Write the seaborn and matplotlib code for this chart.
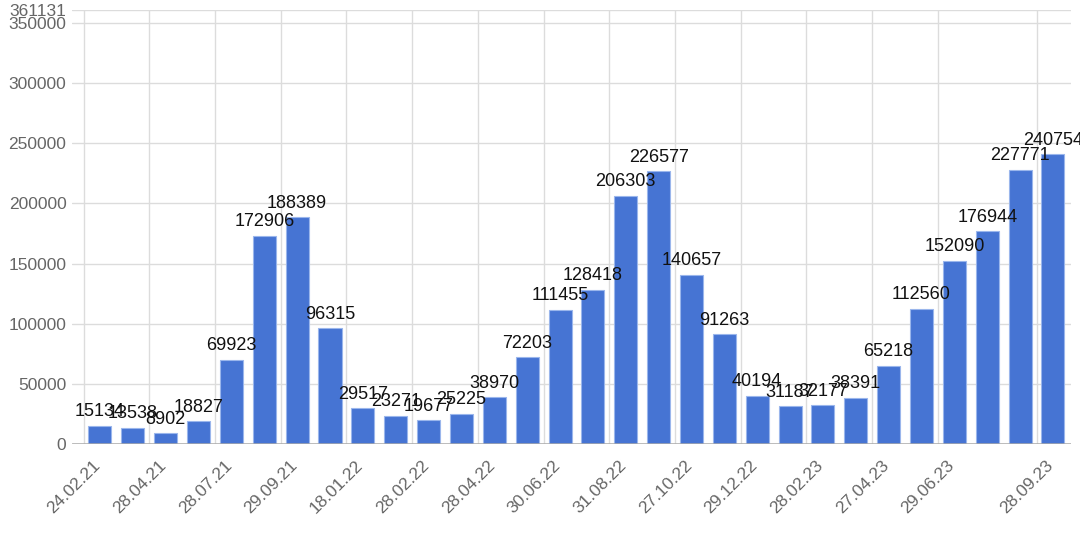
import numpy as np
import pandas as pd
import matplotlib
matplotlib.use("Agg")
import matplotlib.pyplot as plt
import matplotlib.transforms as mtransforms
import seaborn as sns

# bar values, left to right
values = [15134, 13538, 8902, 18827, 69923, 172906, 188389, 96315, 29517, 23271,
          19677, 25225, 38970, 72203, 111455, 128418, 206303, 226577, 140657, 91263,
          40194, 31187, 32177, 38391, 65218, 112560, 152090, 176944, 227771, 240754]

# date labels on the x axis and the bar each one stands in front of
tick_labels = ["24.02.21", "28.04.21", "28.07.21", "29.09.21", "18.01.22", "28.02.22",
               "28.04.22", "30.06.22", "31.08.22", "27.10.22", "29.12.22", "28.02.23",
               "27.04.23", "29.06.23", "28.09.23"]
tick_before_bar = [0, 2, 4, 6, 8, 10, 12, 14, 16, 18, 20, 22, 24, 26, 29]

y_max = 361131
y_step = 50000

df = pd.DataFrame({"bar": np.arange(len(values)), "value": values})

sns.set_theme(style="white")
plt.rcParams["font.family"] = ["Liberation Sans", "DejaVu Sans"]

fig = plt.figure(figsize=(10.8, 5.4), dpi=100)
ax = fig.add_axes([0.0667, 0.1778, 0.9250, 0.8044])

sns.barplot(data=df, x="bar", y="value", color="#4674d3", saturation=1,
            width=0.7, edgecolor="#9ab6ec", linewidth=0.8, ax=ax, zorder=3)

grid_col = "#dcdcdc"
ax.set_xlim(-0.85, len(values) - 0.45)
ax.set_ylim(0, y_max)

# horizontal grid
yticks = list(range(0, y_max, y_step)) + [y_max]
ax.set_yticks(yticks)
ax.set_yticklabels([str(t) for t in yticks], fontsize=12.5, color="#666666")
for t in yticks:
    ax.axhline(t, color=grid_col, lw=1, zorder=1)
ax.axhline(0, color="#aaaaaa", lw=1.8, zorder=4)

# vertical grid at the date ticks, labels drawn by hand so they can be nudged
xt = [i - 0.5 for i in tick_before_bar]
ax.set_xticks(xt)
ax.set_xticklabels([""] * len(xt))
for x in xt:
    ax.axvline(x, color=grid_col, lw=1, zorder=1)
ax.tick_params(axis="x", length=11, color=grid_col, width=1, pad=2)
ax.tick_params(axis="y", length=0, pad=4)

lab_tr = ax.get_xaxis_transform() + mtransforms.ScaledTranslation(
    9 / 100, -14 / 100, fig.dpi_scale_trans)
for x, lab in zip(xt, tick_labels):
    ax.text(x, 0, lab, transform=lab_tr, rotation=45, rotation_mode="anchor",
            ha="right", va="top", fontsize=12.5, color="#666666", clip_on=False)

for s in ax.spines.values():
    s.set_visible(False)
ax.set_xlabel("")
ax.set_ylabel("")

ax.bar_label(ax.containers[0], labels=[str(v) for v in values], padding=4,
             fontsize=13, color="#111111", zorder=5)

fig.savefig("out.png", dpi=100)
